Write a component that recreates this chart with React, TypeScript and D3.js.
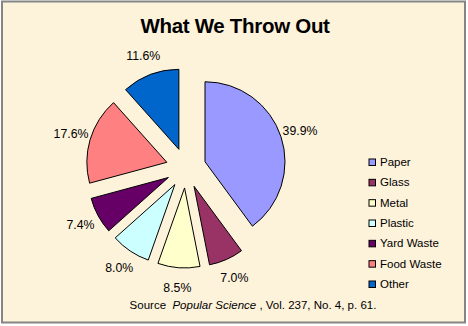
import React from "react";
import * as d3 from "d3";

const categories = ["Paper", "Glass", "Metal", "Plastic", "Yard Waste", "Food Waste", "Other"];
const values = [39.9, 7.0, 8.5, 8.0, 7.4, 17.6, 11.6];
const colors = ["#9999FF", "#993366", "#FFFFCC", "#CCFFFF", "#660066", "#FF8080", "#0066CC"];

const W = 468;
const H = 326;
const cx = 186;
const cy = 168;
const R = 80;
const explode = 20;
const labelR = 100;

export default function App() {
  const pie = d3.pie<number>().sort(null).value((d) => d)(values);
  const arc = d3.arc<d3.PieArcDatum<number>>().innerRadius(0).outerRadius(R);
  const font = "'Liberation Sans', Arial, sans-serif";
  const legendY = d3.scalePoint<string>().domain(categories).range([162, 284]);

  return (
    <div style={{ position: "fixed", left: 0, top: 0 }}>
      <svg width={W} height={H} style={{ display: "block", background: "#fff" }}>
        <rect x={2} y={1.5} width={463} height={321} fill="#FDF2DA" stroke="#858585" strokeWidth={2} />
        <text x={235} y={33} textAnchor="middle" fontFamily={font} fontWeight="bold" fontSize={20.5} letterSpacing={-0.3} fill="#000">
          What We Throw Out
        </text>
        <g transform={`translate(${cx},${cy})`}>
          {pie.map((p, i) => {
            const mid = (p.startAngle + p.endAngle) / 2;
            const ox = Math.sin(mid) * explode;
            const oy = -Math.cos(mid) * explode;
            const lx = ox + Math.sin(mid) * labelR;
            const ly = oy - Math.cos(mid) * labelR;
            return (
              <g key={categories[i]}>
                <path d={arc(p) || ""} transform={`translate(${ox},${oy})`} fill={colors[i]} stroke="#000" strokeWidth={1} />
                <text x={lx} y={ly} textAnchor="middle" dominantBaseline="central" fontFamily={font} fontSize={12.3} fill="#000">
                  {values[i].toFixed(1)}%
                </text>
              </g>
            );
          })}
        </g>
        {categories.map((c, i) => (
          <g key={c} transform={`translate(369,${legendY(c)})`}>
            <rect x={0} y={-3} width={6.5} height={6.5} fill={colors[i]} stroke="#000" strokeWidth={1} />
            <text x={11} y={0} dominantBaseline="central" fontFamily={font} fontSize={11.5} fill="#000">
              {c}
            </text>
          </g>
        ))}
        <text x={253} y={305} textAnchor="middle" dominantBaseline="central" fontFamily={font} fontSize={11.5} fill="#000" style={{ whiteSpace: "pre" }}>
          {"Source  "}<tspan fontStyle="italic">Popular Science</tspan>{" , Vol. 237, No. 4, p. 61."}
        </text>
      </svg>
    </div>
  );
}
